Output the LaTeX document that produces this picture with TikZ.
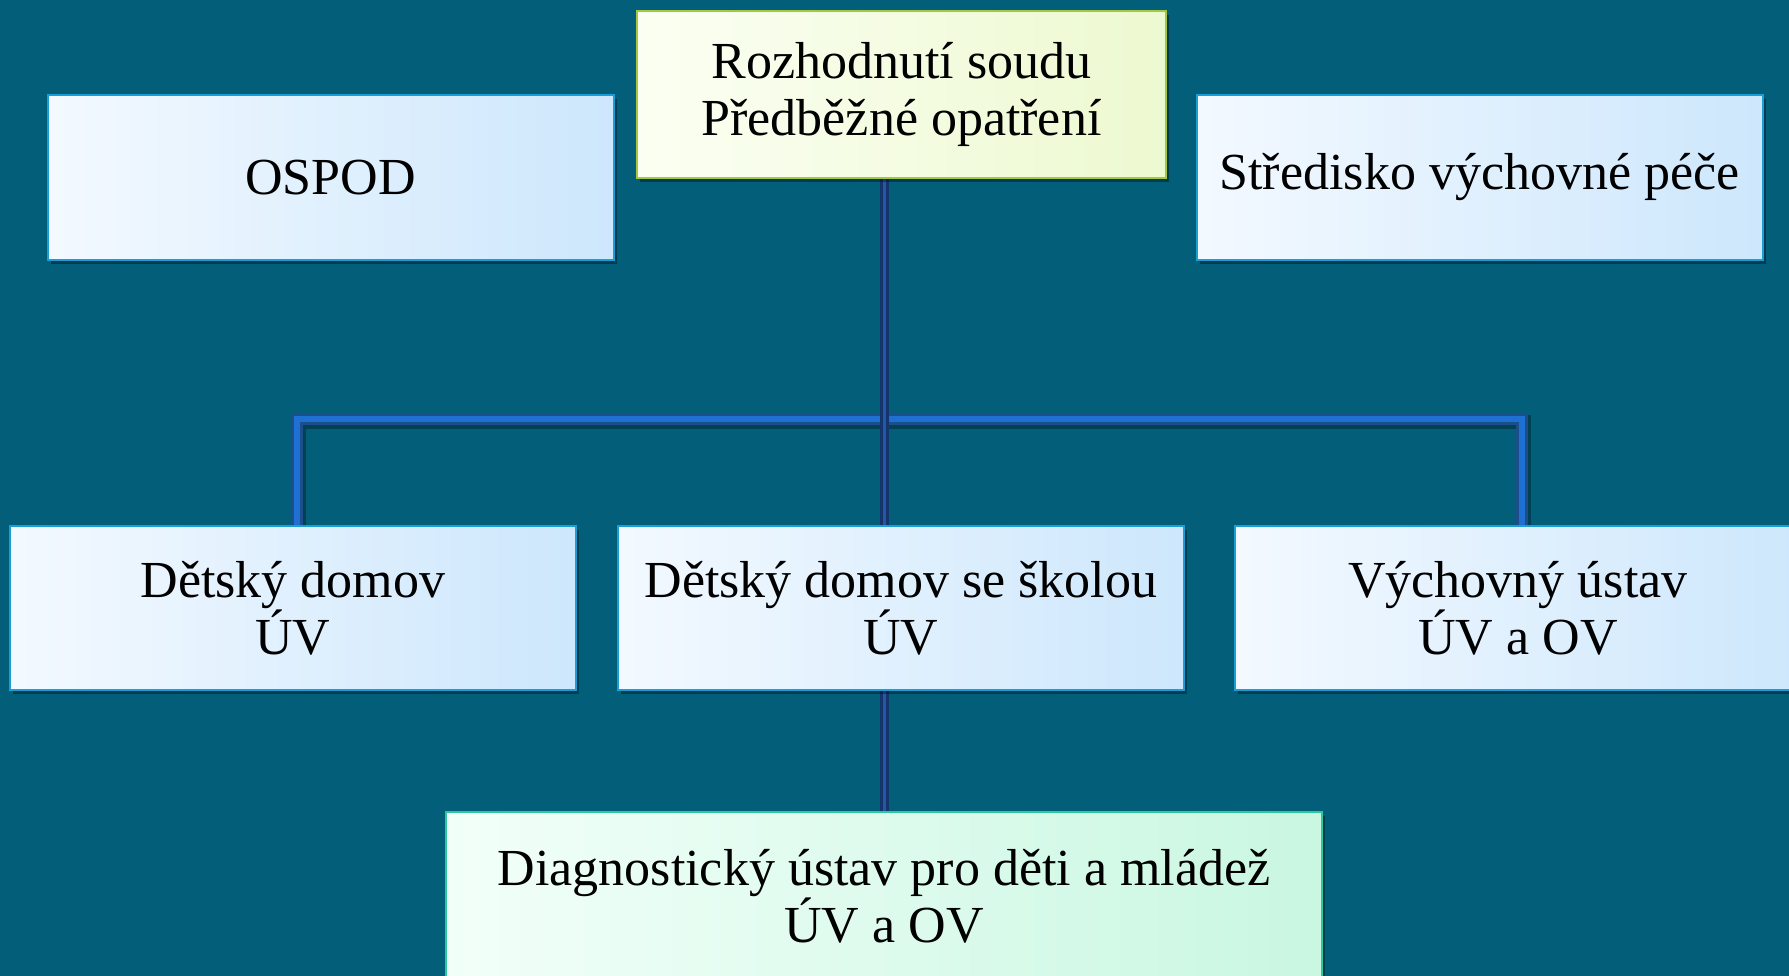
\documentclass[tikz,border=0pt]{standalone}
\usepackage{fontspec}
\setmainfont{Liberation Serif}
\usetikzlibrary{shadows}
\definecolor{bgc}{HTML}{035E79}
\definecolor{boxl}{HTML}{F3F9FF}
\definecolor{boxr}{HTML}{CDE7FC}
\definecolor{boxb}{HTML}{1B9ED8}
\definecolor{topl}{HTML}{FBFFF3}
\definecolor{topr}{HTML}{EDF9D0}
\definecolor{topb}{HTML}{A5C844}
\definecolor{diagl}{HTML}{F2FFF9}
\definecolor{diagr}{HTML}{C9F7E1}
\definecolor{diagb}{HTML}{2FC89A}
\definecolor{connout}{HTML}{1D4E8C}
\definecolor{connin}{HTML}{1E70D2}
\definecolor{midout}{HTML}{15356A}
\definecolor{midin}{HTML}{2258A8}
\pgfdeclarelayer{bglayer}
\pgfdeclarelayer{connlayer}
\pgfsetlayers{bglayer,connlayer,main}
\begin{document}
\begin{tikzpicture}[x=1pt,y=-1pt,
  box/.style={draw=boxb, line width=2pt, left color=boxl, right color=boxr,
    minimum width=566pt, minimum height=164pt, align=center, inner sep=0pt,
    font=\fontsize{52}{57}\selectfont,
    drop shadow={shadow xshift=3pt, shadow yshift=-4pt, opacity=0.35, fill=black}},
  topbox/.style={box, draw=topb, left color=topl, right color=topr},
  diagbox/.style={box, draw=diagb, left color=diagl, right color=diagr},
  conn/.style={draw=connout, double=connin, double distance=6pt, line width=3pt},
  connmid/.style={draw=midout, double=midin, double distance=3pt, line width=3pt},
  connshadow/.style={draw=black, opacity=0.3, line width=14pt}
]
\useasboundingbox (0,0) rectangle (1789,976);
\begin{pgfonlayer}{bglayer}
  \fill[bgc] (0,0) rectangle (1789,976);
\end{pgfonlayer}

\node[topbox, minimum width=529pt, minimum height=167pt] (top) at (901.5,94.5) {Rozhodnutí soudu\\Předběžné opatření};
\node[box, minimum height=165pt] (ospod) at (330.5,177.5) {OSPOD};
\node[box, minimum height=165pt] (stred) at (1479.5,177.5) {Středisko výchovné péče};
\node[box] (dd) at (293,608) {Dětský domov\\ÚV};
\node[box] (dds) at (901,608) {Dětský domov se školou\\ÚV};
\node[box] (vu) at (1518,608) {Výchovný ústav\\ÚV a OV};
\node[diagbox, minimum width=876pt, minimum height=168pt] (diag) at (884,896) {Diagnostický ústav pro děti a mládež\\ÚV a OV};

\coordinate (barl) at (297,419);
\coordinate (barr) at (1522,419);

\begin{pgfonlayer}{connlayer}
  \draw[connshadow, transform canvas={shift={(2pt,-3pt)}}] (barl |- dd.north) -- (barl) -- (barr) -- (barr |- vu.north);
  \draw[conn, line join=miter] (barl |- dd.north) -- (barl) -- (barr) -- (barr |- vu.north);
  \draw[connmid] (top.south -| diag.north) -- (dds.north -| diag.north);
  \draw[connmid] (dds.south -| diag.north) -- (diag.north);
\end{pgfonlayer}
\end{tikzpicture}
\end{document}
